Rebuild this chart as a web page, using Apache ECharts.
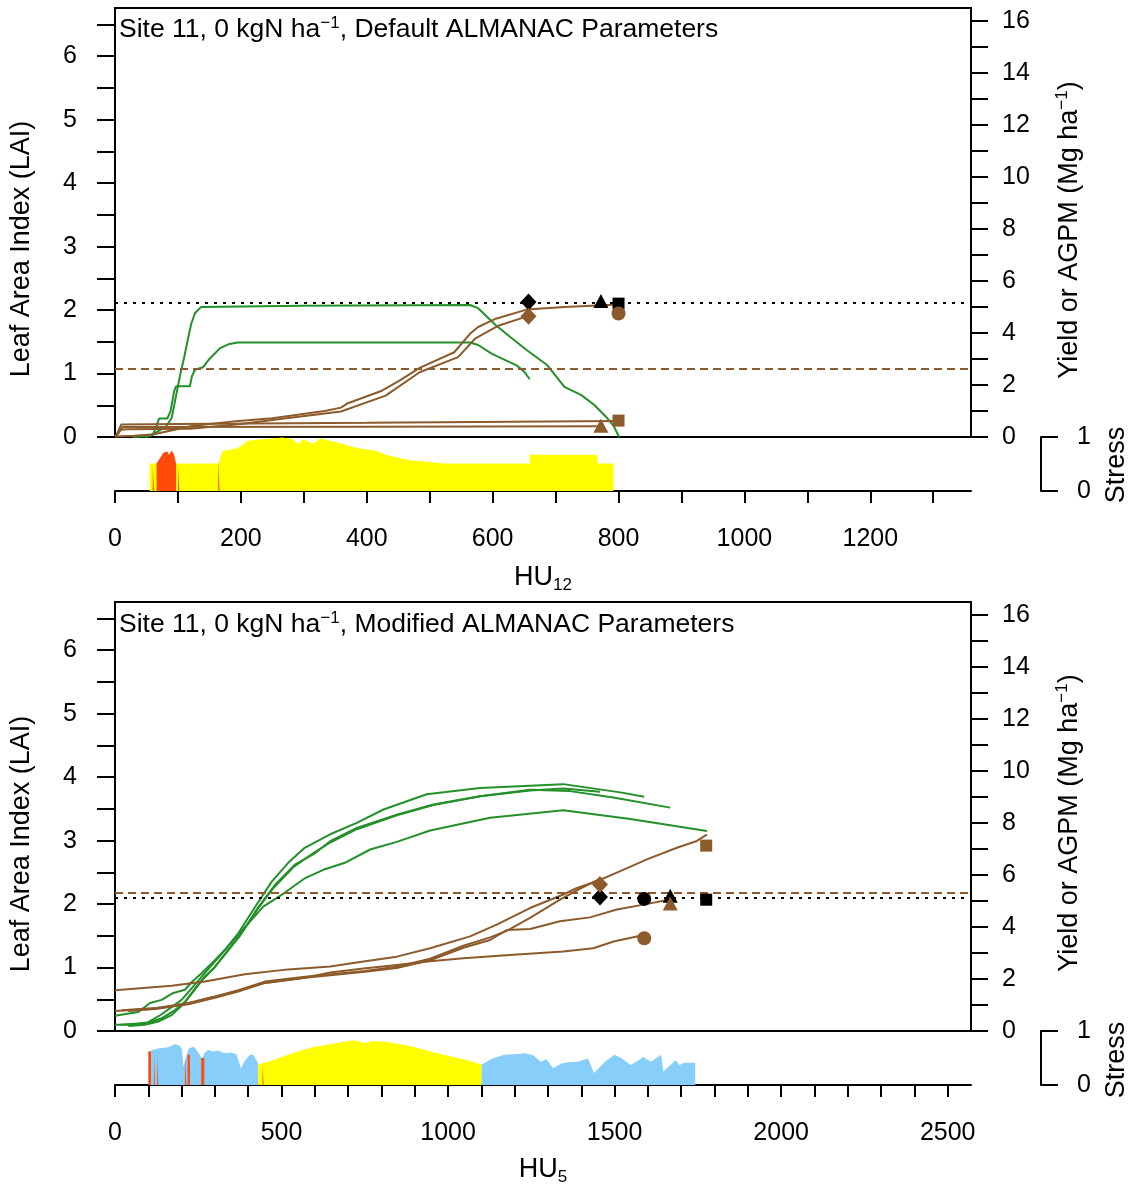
<!DOCTYPE html>
<html><head><meta charset="utf-8">
<script src="https://cdn.jsdelivr.net/npm/echarts@6/dist/echarts.min.js"></script>
<style>html,body{margin:0;padding:0;background:#fff}#c{width:1134px;height:1186px}</style>
</head><body><div id="c"></div>
<script>
// ---------------- DATA ----------------
// Top panel (HU12): LAI curves [HU, LAI]
const topLaiA = [[28,0],[50,0.01],[63,0.06],[80,0.15],[90,0.3],[98,0.7],[104,1.0],[110,1.26],[116,1.55],[121,1.78],[127,1.95],[137,2.05],[300,2.07],[564,2.08],[577,2.03],[605,1.76],[630,1.56],[654,1.37],[687,1.13],[714,0.79],[741,0.66],[762,0.5],[780,0.32],[792,0.18],[798,0.06],[801,0]];
const topLaiB = [[48,0],[60,0.03],[67,0.2],[70,0.29],[83,0.29],[88,0.4],[94,0.72],[97,0.8],[119,0.8],[122,0.95],[127,1.06],[140,1.1],[150,1.23],[167,1.4],[180,1.46],[195,1.49],[564,1.49],[577,1.45],[599,1.31],[638,1.13],[650,1.03],[659,0.91]];
// Top panel: yield / AGPM curves [HU, Mg/ha]
const topYieldC1 = [[0,0.02],[30,0.05],[60,0.1],[122,0.42],[196,0.62],[250,0.72],[333,1.0],[359,1.13],[370,1.3],[424,1.78],[452,2.17],[484,2.66],[539,3.26],[564,3.97],[577,4.23],[605,4.55],[654,4.9],[714,5.0],[800,5.1]];
const topYieldC2 = [[0,0.02],[8,0.28],[20,0.3],[120,0.32],[200,0.5],[250,0.65],[359,0.98],[430,1.59],[484,2.49],[545,3.07],[572,3.78],[610,4.29],[657,4.66]];
const topYieldF1 = [[2,0.05],[10,0.48],[100,0.5],[400,0.55],[800,0.62]];
const topYieldF2 = [[3,0.05],[12,0.38],[400,0.39],[772,0.41]];
// Markers: order diamond, circle, triangle, square
const topObsYield = [[657,5.19], null, [772,5.23], [800,5.13]];
const topSimYield = [[657,4.64], [800,4.75], [772,0.43], [800,0.63]];
const topObsLine = 5.15;
const topRefLine = 2.61;
// Top stress [HU, stress]
const topStressYellow = [[55,0.51],[165,0.51],[167,0.6],[171,0.74],[195,0.79],[211,0.93],[233,0.96],[250,0.97],[266,0.99],[282,0.96],[291,0.87],[299,0.96],[315,0.87],[326,0.97],[359,0.88],[386,0.79],[413,0.75],[430,0.67],[468,0.57],[495,0.54],[523,0.51],[659,0.51],[659,0.67],[766,0.67],[767,0.51],[792,0.51]];
const topStressRed = [[66,0.51],[69,0.54],[77,0.71],[83,0.73],[86,0.67],[90,0.75],[94,0.67],[97,0.51]];
const topRedStripes = [[60,62,0.45],[100,102,0.51],[164,166,0.6]];

// Bottom panel (HU5): LAI curves
const botLai1 = [[0,0.24],[70,0.3],[105,0.44],[140,0.49],[175,0.6],[210,0.65],[232,0.78],[260,0.91],[295,1.09],[330,1.28],[370,1.54],[420,1.95],[470,2.35],[520,2.65],[568,2.88],[646,3.1],[726,3.28],[806,3.49],[936,3.73],[1096,3.83],[1346,3.89],[1517,3.76],[1589,3.69]];
const botLai2 = [[15,0.1],[70,0.12],[100,0.13],[140,0.2],[180,0.33],[210,0.46],[240,0.67],[270,0.86],[300,1.01],[340,1.28],[380,1.54],[430,1.95],[480,2.3],[540,2.62],[600,2.8],[646,2.99],[726,3.2],[846,3.41],[956,3.57],[1096,3.7],[1246,3.79],[1346,3.82],[1456,3.77]];
const botLai3 = [[40,0.08],[90,0.1],[130,0.15],[170,0.25],[205,0.42],[235,0.62],[265,0.82],[295,0.98],[335,1.24],[375,1.5],[425,1.9],[475,2.25],[535,2.58],[600,2.82],[646,2.97],[726,3.18],[846,3.4],[956,3.56],[1096,3.7],[1246,3.8],[1366,3.78],[1496,3.68],[1667,3.52]];
const botLai4 = [[0,0.1],[53,0.1],[100,0.14],[139,0.26],[200,0.49],[261,0.86],[323,1.23],[384,1.6],[445,1.96],[507,2.17],[568,2.4],[630,2.55],[690,2.65],[766,2.86],[846,2.98],[946,3.16],[1126,3.36],[1346,3.48],[1547,3.34],[1777,3.15]];
// Bottom panel: yield / AGPM curves
const botYield1 = [[0,1.57],[170,1.74],[270,1.9],[390,2.18],[520,2.37],[646,2.48],[746,2.67],[846,2.86],[946,3.18],[1066,3.64],[1146,4.09],[1246,4.73],[1346,5.25],[1387,5.5],[1447,5.76],[1517,6.15],[1597,6.6],[1687,7.05],[1747,7.31],[1777,7.55]];
const botYield2 = [[0,0.77],[120,0.86],[220,1.06],[300,1.32],[370,1.57],[450,1.9],[571,2.09],[751,2.31],[846,2.47],[946,2.78],[1046,3.28],[1126,3.6],[1176,3.85],[1246,4.35],[1336,5.05],[1400,5.5],[1456,5.85]];
const botYield3 = [[40,0.77],[120,0.85],[220,1.03],[300,1.28],[370,1.52],[450,1.85],[571,2.05],[751,2.28],[846,2.42],[946,2.72],[1046,3.2],[1126,3.5],[1176,3.88],[1246,3.92],[1336,4.22],[1426,4.37],[1507,4.67],[1587,4.86],[1667,5.06]];
const botYield4 = [[20,0.8],[120,0.88],[220,1.08],[300,1.33],[370,1.55],[450,1.85],[571,2.05],[646,2.25],[746,2.4],[846,2.54],[946,2.68],[1046,2.8],[1196,2.93],[1346,3.06],[1436,3.18],[1497,3.44],[1577,3.66]];
const botObsYield = [[1456,5.15],[1589,5.08],[1667,5.2],[1775,5.05]];
const botSimYield = [[1456,5.63],[1589,3.57],[1667,4.9],[1775,7.13]];
const botObsLine = 5.12;
const botRefLine = 5.31;
// Bottom stress
const botStressBlue1 = [[102,0.62],[120,0.66],[133,0.68],[139,0.71],[160,0.7],[182,0.76],[195,0.72],[200,0.68],[206,0.34],[212,0.5],[222,0.68],[237,0.71],[250,0.6],[261,0.49],[270,0.6],[280,0.65],[295,0.62],[310,0.64],[322,0.6],[335,0.59],[350,0.6],[365,0.56],[378,0.31],[390,0.45],[405,0.56],[415,0.56],[427,0.43],[430,0.38]];
const botStressYellow = [[430,0.38],[440,0.4],[470,0.45],[519,0.56],[592,0.7],[666,0.78],[715,0.83],[752,0.78],[770,0.81],[813,0.8],[886,0.72],[985,0.56],[1050,0.47],[1101,0.38]];
const botStressBlue2 = [[1101,0.38],[1107,0.37],[1130,0.48],[1168,0.56],[1200,0.57],[1230,0.59],[1255,0.55],[1279,0.43],[1295,0.48],[1315,0.31],[1340,0.4],[1360,0.42],[1389,0.43],[1420,0.49],[1438,0.22],[1470,0.42],[1499,0.56],[1520,0.5],[1548,0.37],[1570,0.45],[1585,0.52],[1610,0.43],[1625,0.5],[1640,0.56],[1646,0.25],[1670,0.38],[1683,0.46],[1695,0.37],[1710,0.41],[1742,0.41]];
const botRedStripes = [[100,108,0.62],[117,120,0.58],[127,130,0.58],[210,214,0.55],[218,225,0.56],[259,268,0.5],[443,446,0.4]];

// Axis ticks / labels
const topXTicks = [0,100,200,300,400,500,600,700,800,900,1000,1100,1200,1300];
const topXLabels = [0,200,400,600,800,1000,1200];
const botXTicks = [0,100,200,300,400,500,600,700,800,900,1000,1100,1200,1300,1400,1500,1600,1700,1800,1900,2000,2100,2200,2300,2400,2500];
const botXLabels = [0,500,1000,1500,2000,2500];
const laiTicks = [0,0.5,1,1.5,2,2.5,3,3.5,4,4.5,5,5.5,6,6.5];
const laiLabels = [0,1,2,3,4,5,6];
const yieldTicks = [0,1,2,3,4,5,6,7,8,9,10,11,12,13,14,15,16];
const yieldLabels = [0,2,4,6,8,10,12,14,16];
const stressTicks = [0,1];

// ---------------- CHART ----------------
const FONT = '"Liberation Sans", Arial, Helvetica, sans-serif';
const GREEN = '#23902a', BROWN = '#8c5a2b', YELLOW = '#ffff00', RED = '#ff4a0a', BLUE = '#87cefa';
const TICKFS = 25, NAMEFS = 27;
const axisLineStyle = {color:'#000', width:2};
const plain = v => String(v);
const chart = echarts.init(document.getElementById('c'), null, {renderer:'canvas'});

function xAxisMain(g, max){ return {type:'value', gridIndex:g, min:0, max:max, show:false}; }
function xAxisStress(g, max, ticks, labels){
  return {type:'value', gridIndex:g, min:0, max:max, position:'bottom',
    axisLine:{show:true, onZero:false, lineStyle:axisLineStyle},
    axisTick:{show:true, inside:false, length:12, lineStyle:axisLineStyle, customValues:ticks},
    axisLabel:{show:true, customValues:labels, formatter:plain, fontSize:TICKFS, color:'#000', fontFamily:FONT, margin:36},
    splitLine:{show:false}};
}
function yLai(g){
  return {type:'value', gridIndex:g, min:0, max:6.76, position:'left',
    axisLine:{show:true, onZero:false, lineStyle:axisLineStyle},
    axisTick:{show:true, inside:false, length:18, lineStyle:axisLineStyle, customValues:laiTicks},
    axisLabel:{show:true, customValues:laiLabels, formatter:plain, fontSize:TICKFS, color:'#000', fontFamily:FONT, margin:38},
    splitLine:{show:false}};
}
function yYield(g){
  return {type:'value', gridIndex:g, min:0, max:16.5, position:'right',
    axisLine:{show:true, onZero:false, lineStyle:axisLineStyle},
    axisTick:{show:true, inside:false, length:17, lineStyle:axisLineStyle, customValues:yieldTicks},
    axisLabel:{show:true, customValues:yieldLabels, formatter:plain, fontSize:TICKFS, color:'#000', fontFamily:FONT, margin:31},
    splitLine:{show:false}};
}
function yStress(g){
  return {type:'value', gridIndex:g, min:0, max:1, position:'right', offset:70,
    axisLine:{show:true, onZero:false, lineStyle:axisLineStyle},
    axisTick:{show:true, inside:false, length:17, lineStyle:axisLineStyle, customValues:stressTicks},
    axisLabel:{show:true, customValues:stressTicks, formatter:plain, fontSize:TICKFS, color:'#000', fontFamily:FONT, margin:36},
    splitLine:{show:false}};
}
function lineS(data, color, xi, yi){
  return {type:'line', xAxisIndex:xi, yAxisIndex:yi, data:data, symbol:'none', showSymbol:false,
    lineStyle:{color:color, width:2}, itemStyle:{color:color}, z:3, silent:true};
}
function areaS(data, color, xi, yi, z){
  return {type:'line', xAxisIndex:xi, yAxisIndex:yi, data:data, symbol:'none', showSymbol:false,
    lineStyle:{width:0, color:color}, areaStyle:{color:color, opacity:1, origin:'start'}, itemStyle:{color:color}, z:z, silent:true};
}
function stripes(list, color, xi, yi){
  return list.map(s => areaS([[s[0], s[2]], [s[1], s[2]]], color, xi, yi, 4));
}
const shapes = ['diamond','circle','triangle','rect'];
const sizes = {diamond:[16,17], circle:14, triangle:[15,14], rect:12};
function markers(list, color, xi, yi){
  const out = [];
  list.forEach((p, i) => {
    if (!p) return;
    out.push({type:'scatter', xAxisIndex:xi, yAxisIndex:yi, symbol:shapes[i], symbolSize:sizes[shapes[i]],
      itemStyle:{color:color, opacity:1}, data:[p], z:6, silent:true});
  });
  return out;
}
function refLines(xi, yi, obs, ref){
  return {type:'line', xAxisIndex:xi, yAxisIndex:yi, data:[], silent:true, z:2,
    markLine:{symbol:'none', silent:true, animation:false, label:{show:false},
      data:[
        {yAxis:obs, lineStyle:{type:[3,6], color:'#000', width:2.2}},
        {yAxis:ref, lineStyle:{type:[8,5], color:BROWN, width:2}}
      ]}};
}

const series = [].concat(
  // top
  refLines(0, 1, topObsLine, topRefLine),
  lineS(topLaiA, GREEN, 0, 0), lineS(topLaiB, GREEN, 0, 0),
  lineS(topYieldC1, BROWN, 0, 1), lineS(topYieldC2, BROWN, 0, 1),
  lineS(topYieldF1, BROWN, 0, 1), lineS(topYieldF2, BROWN, 0, 1),
  markers(topObsYield, '#000', 0, 1), markers(topSimYield, BROWN, 0, 1),
  areaS(topStressYellow, YELLOW, 1, 2, 2), areaS(topStressRed, RED, 1, 2, 3),
  stripes(topRedStripes, RED, 1, 2),
  // bottom
  refLines(2, 4, botObsLine, botRefLine),
  lineS(botLai1, GREEN, 2, 3), lineS(botLai2, GREEN, 2, 3), lineS(botLai3, GREEN, 2, 3), lineS(botLai4, GREEN, 2, 3),
  lineS(botYield1, BROWN, 2, 4), lineS(botYield2, BROWN, 2, 4), lineS(botYield3, BROWN, 2, 4), lineS(botYield4, BROWN, 2, 4),
  markers(botObsYield, '#000', 2, 4), markers(botSimYield, BROWN, 2, 4),
  areaS(botStressBlue1, BLUE, 3, 5, 2), areaS(botStressYellow, YELLOW, 3, 5, 2), areaS(botStressBlue2, BLUE, 3, 5, 2),
  stripes(botRedStripes, RED, 3, 5)
);

const titleRich = {
  t:{fontSize:26.5, fontFamily:FONT, fill:'#000', color:'#000', lineHeight:30},
  s:{fontSize:17, fontFamily:FONT, fill:'#000', color:'#000', lineHeight:17, verticalAlign:'top'}
};
const nameRich = {
  t:{fontSize:NAMEFS, fontFamily:FONT, fill:'#000', color:'#000', lineHeight:32},
  s:{fontSize:17, fontFamily:FONT, fill:'#000', color:'#000', lineHeight:17, verticalAlign:'top'}
};
const subRich = {
  t:{fontSize:NAMEFS, fontFamily:FONT, fill:'#000', color:'#000', lineHeight:32},
  s:{fontSize:17, fontFamily:FONT, fill:'#000', color:'#000', lineHeight:17, verticalAlign:'bottom'}
};
function txt(x, y, text, rich, rot, align){
  return {type:'text', x:x, y:y, rotation:rot||0, silent:true, z:10,
    style:{text:text, rich:rich, align:align||'center', verticalAlign:'middle', fontSize:NAMEFS, fontFamily:FONT, fill:'#000'}};
}

const option = {
  animation:false,
  backgroundColor:'#fff',
  grid:[
    {left:115, top:8, width:856, height:429, show:true, borderColor:'#000', borderWidth:2, backgroundColor:'transparent', outerBoundsMode:'none'},
    {left:115, top:437, width:856, height:54, show:false, outerBoundsMode:'none'},
    {left:115, top:602, width:856, height:429, show:true, borderColor:'#000', borderWidth:2, backgroundColor:'transparent', outerBoundsMode:'none'},
    {left:115, top:1031, width:856, height:54, show:false, outerBoundsMode:'none'}
  ],
  xAxis:[
    xAxisMain(0, 1360), xAxisStress(1, 1360, topXTicks, topXLabels),
    xAxisMain(2, 2570), xAxisStress(3, 2570, botXTicks, botXLabels)
  ],
  yAxis:[ yLai(0), yYield(0), yStress(1), yLai(2), yYield(2), yStress(3) ],
  series: series,
  graphic:[
    txt(119, 30, '{t|Site 11, 0 kgN ha}{s|−1}{t|, Default ALMANAC Parameters}', titleRich, 0, 'left'),
    txt(119, 625, '{t|Site 11, 0 kgN ha}{s|−1}{t|, Modified ALMANAC Parameters}', titleRich, 0, 'left'),
    txt(22, 249, '{t|Leaf Area Index (LAI)}', nameRich, Math.PI/2),
    txt(22, 844, '{t|Leaf Area Index (LAI)}', nameRich, Math.PI/2),
    txt(1070, 230, '{t|Yield or AGPM (Mg ha}{s|−1}{t|)}', nameRich, Math.PI/2),
    txt(1070, 823, '{t|Yield or AGPM (Mg ha}{s|−1}{t|)}', nameRich, Math.PI/2),
    txt(1117, 465, '{t|Stress}', nameRich, Math.PI/2),
    txt(1117, 1060, '{t|Stress}', nameRich, Math.PI/2),
    txt(543, 578, '{t|HU}{s|12}', subRich, 0),
    txt(543, 1170, '{t|HU}{s|5}', subRich, 0)
  ]
};
chart.setOption(option);
</script></body></html>
